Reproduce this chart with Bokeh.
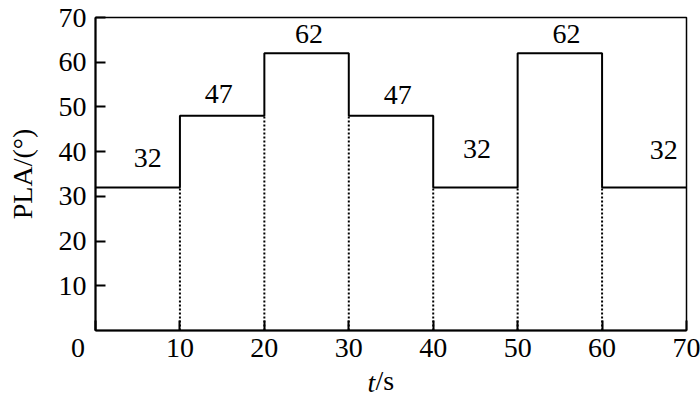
from bokeh.plotting import figure
from bokeh.models import Range1d, Label, FixedTicker
from bokeh.core.properties import value
from bokeh.embed import file_html
from bokeh.resources import INLINE

# data
t_edges = [0, 10, 20, 30, 40, 50, 60, 70]
pla = [32, 48, 62, 48, 32, 62, 32]
seg_labels = ["32", "47", "62", "47", "32", "62", "32"]
x_ticks = [0, 10, 20, 30, 40, 50, 60, 70]
y_ticks = [10, 20, 30, 40, 50, 60, 70]

# label placement (layout)
lab_x = [6.2, 14.6, 25.3, 35.8, 45.2, 55.8, 67.3]
lab_y = [38.6, 53.0, 66.4, 52.6, 40.7, 66.4, 40.3]

FONT = "Liberation Serif"
FS = "28px"

p = figure(width=700, height=401, output_backend="svg", toolbar_location=None,
           x_range=Range1d(0, 70), y_range=Range1d(0, 70),
           min_border_left=95, min_border_right=14, min_border_top=17, min_border_bottom=71)
p.grid.visible = False
p.background_fill_color = "white"
p.border_fill_color = "white"
p.outline_line_color = "black"
p.outline_line_width = 1.5
p.outline_line_alpha = 1

for ax, ticks in ((p.xaxis, x_ticks), (p.yaxis, y_ticks)):
    ax.ticker = FixedTicker(ticks=ticks)
    ax.axis_line_width = 2
    ax.axis_line_color = "black"
    ax.major_tick_in = 10
    ax.major_tick_out = 0
    ax.major_tick_line_width = 2
    ax.major_tick_line_color = "black"
    ax.minor_tick_line_color = None
    ax.major_label_text_font = FONT
    ax.major_label_text_font_size = FS
    ax.major_label_text_color = "black"
p.xaxis.major_label_standoff = 1
p.yaxis.major_label_standoff = 9
# shared origin label sits left of the corner
p.xaxis.major_label_overrides = {0: "0\u2002\u2002\u00a0"}

p.yaxis.axis_label = "PLA/(°)"
p.yaxis.axis_label_text_font = FONT
p.yaxis.axis_label_text_font_size = FS
p.yaxis.axis_label_text_font_style = "normal"
p.yaxis.axis_label_text_color = "black"
p.yaxis.axis_label_standoff = 18

# step line
step_x = t_edges
step_y = pla + [pla[-1]]
p.step(step_x, step_y, mode="after", line_color="black", line_width=2)

# dotted verticals at transitions
dx, dy0, dy1 = [], [], []
for i in range(1, len(pla)):
    dx.append(t_edges[i])
    dy0.append(0)
    dy1.append(min(pla[i - 1], pla[i]))
p.segment(x0=dx, y0=dy0, x1=dx, y1=dy1, line_color="black", line_width=2, line_dash="2 2")

# value labels
p.text(x=lab_x, y=lab_y, text=seg_labels, text_align="center", text_baseline="middle",
       text_font=value(FONT), text_font_size=FS, text_color="black")

# x axis title: italic t + upright /s
lt = Label(x=-319, y=-52, x_units="screen", y_units="screen", text="t",
           text_align="left", text_baseline="middle",
           text_font=FONT, text_font_size=FS, text_font_style="italic", text_color="black")
p.add_layout(lt, "right")
ls = Label(x=280, y=16, x_units="screen", y_units="screen", text="/s",
           text_align="left", text_baseline="middle",
           text_font=FONT, text_font_size=FS, text_color="black")
p.add_layout(ls, "below")

open("out.html", "w").write(file_html(p, INLINE))
